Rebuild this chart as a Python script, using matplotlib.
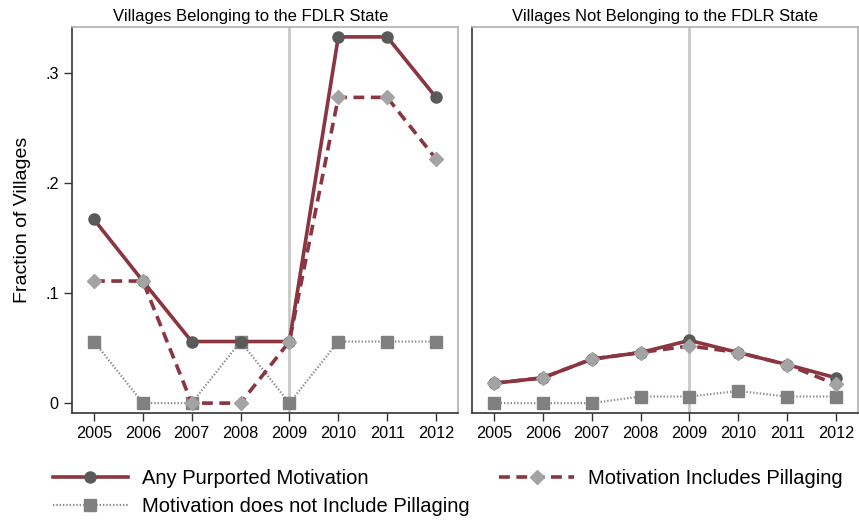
import matplotlib
matplotlib.use("Agg")
import matplotlib.pyplot as plt

plt.rcParams['font.family'] = ['Liberation Sans', 'DejaVu Sans']

years = [2005, 2006, 2007, 2008, 2009, 2010, 2011, 2012]

# Villages belonging to the FDLR state
fdlr_any = [0.167, 0.111, 0.056, 0.056, 0.056, 0.333, 0.333, 0.278]
fdlr_pill = [0.111, 0.111, 0.0, 0.0, 0.056, 0.278, 0.278, 0.222]
fdlr_nopill = [0.056, 0.0, 0.0, 0.056, 0.0, 0.056, 0.056, 0.056]

# Villages not belonging to the FDLR state
non_any = [0.018, 0.023, 0.040, 0.046, 0.057, 0.046, 0.035, 0.023]
non_pill = [0.018, 0.023, 0.040, 0.046, 0.052, 0.046, 0.035, 0.017]
non_nopill = [0.0, 0.0, 0.0, 0.006, 0.006, 0.011, 0.006, 0.006]

titles = ["Villages Belonging to the FDLR State", "Villages Not Belonging to the FDLR State"]
yticks = [0, 0.1, 0.2, 0.3]
yticklabels = ["0", ".1", ".2", ".3"]
legend_labels = ["Any Purported Motivation", "Motivation Includes Pillaging",
                 "Motivation does not Include Pillaging"]

maroon = '#8a3540'
c_circ = '#5a5a5a'
c_diam = '#a3a3a3'
c_sq = '#808080'

fig = plt.figure(figsize=(8.59, 5.2), dpi=100)
W, H = 859, 520
axes = [fig.add_axes([72/W, 1-413/H, 386/W, 386/H]),
        fig.add_axes([472/W, 1-413/H, 386/W, 386/H])]

data = [(fdlr_any, fdlr_pill, fdlr_nopill), (non_any, non_pill, non_nopill)]
title_x = [0.464, 0.5]
handles = None
for i, (ax, (a, p, n)) in enumerate(zip(axes, data)):
    ax.axvline(2009, color='#c8c8c8', lw=2, zorder=1)
    h3, = ax.plot(years, n, color='#8a8a8a', lw=1.6, ls=(0, (0.6, 0.9)),
                  marker='s', ms=8, mfc=c_sq, mec=c_sq, zorder=2)
    h1, = ax.plot(years, a, color=maroon, lw=2.6, ls='-',
                  marker='o', ms=8, mfc=c_circ, mec=c_circ, zorder=3)
    h2, = ax.plot(years, p, color=maroon, lw=2.6, ls=(0, (3, 1.8)),
                  marker='D', ms=7.5, mfc=c_diam, mec=c_diam, zorder=4)
    if handles is None:
        handles = (h1, h2, h3)
    ax.set_xlim(2004.55, 2012.45)
    ax.set_ylim(-0.009, 0.342)
    ax.set_xticks(years)
    ax.set_xticklabels([str(y) for y in years], fontsize=11.7)
    ax.set_yticks(yticks)
    if i == 0:
        ax.set_yticklabels(yticklabels, fontsize=11.7)
        ax.set_ylabel("Fraction of Villages", fontsize=14, labelpad=10)
    else:
        ax.tick_params(axis='y', left=False, labelleft=False)
    ax.set_title(titles[i], fontsize=12, pad=4, x=title_x[i])
    for s in ['top', 'right']:
        ax.spines[s].set_color('#b0b0b0')
        ax.spines[s].set_linewidth(1.2)
    for s in ['left', 'bottom']:
        ax.spines[s].set_color('#333333')
        ax.spines[s].set_linewidth(1.2)
    ax.tick_params(axis='both', colors='#333333', labelcolor='black', length=6, width=1)

h1, h2, h3 = handles
fig.legend([h1, h3, h2], [legend_labels[0], legend_labels[2], legend_labels[1]],
           ncol=2, loc='upper left', bbox_to_anchor=(53/W, 1-469/H),
           frameon=False, fontsize=14.5, handlelength=3.7, columnspacing=1.5,
           labelspacing=0.45, handletextpad=0.7, borderpad=0, borderaxespad=0)

fig.savefig("out.png", dpi=100)
